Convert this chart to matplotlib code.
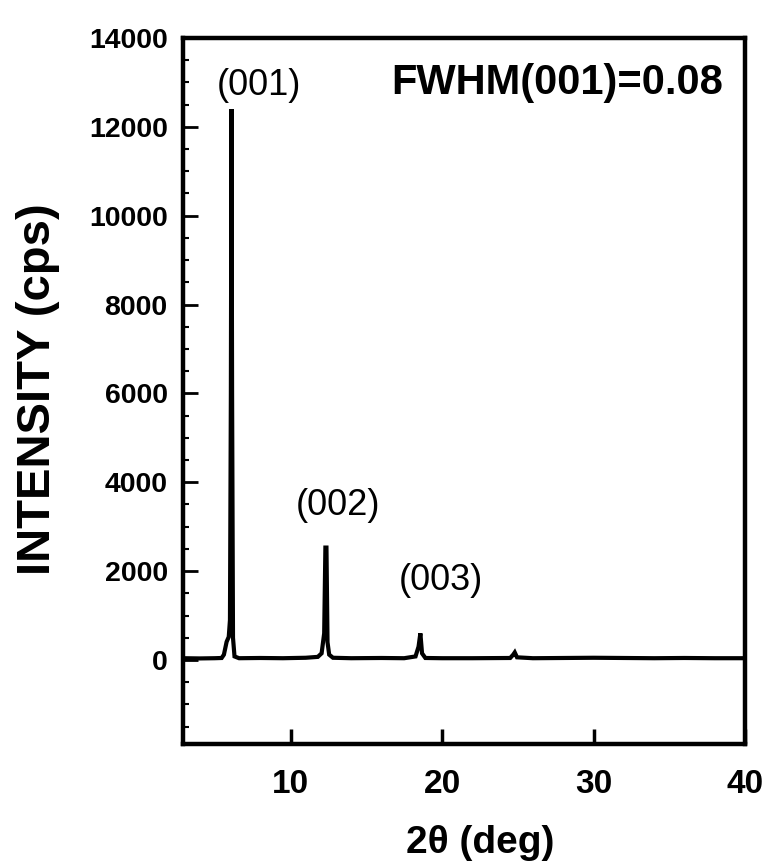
import matplotlib
matplotlib.use("Agg")
import matplotlib.pyplot as plt
from matplotlib.ticker import MultipleLocator

plt.rcParams['font.family'] = ['Liberation Sans', 'DejaVu Sans']

# XRD trace (2theta in deg, intensity in cps)
two_theta = [2.9, 4.0, 5.0, 5.45, 5.6, 5.78, 5.92, 6.0, 6.06, 6.1, 6.14, 6.2, 6.3, 6.6,
             8.0, 9.5, 11.0, 11.8, 12.05, 12.22, 12.3, 12.37, 12.44, 12.55, 12.8,
             14.0, 16.0, 17.5, 18.25, 18.45, 18.57, 18.68, 18.9, 20.0, 22.0,
             24.5, 24.7, 24.8, 24.95, 26.0, 28.0, 30.0, 32.0, 34.0, 36.0, 38.0, 40.0]
intensity = [40, 35, 40, 45, 120, 410, 520, 900, 6000, 12400, 6000, 500, 80, 40,
             45, 40, 50, 70, 150, 600, 2530, 2530, 400, 120, 50,
             40, 45, 40, 80, 300, 600, 150, 45, 40, 40,
             45, 120, 170, 60, 40, 45, 50, 45, 40, 45, 40, 40]

peak_labels = ["(001)", "(002)", "(003)"]
peak_label_x = [7.9, 13.1, 19.95]
peak_label_y = [12920, 3480, 1800]

fwhm_text = "FWHM(001)=0.08"

x_ticks = [10, 20, 30, 40]
y_ticks = [0, 2000, 4000, 6000, 8000, 10000, 12000, 14000]

fig = plt.figure(figsize=(7.67, 8.68), dpi=100)
ax = fig.add_axes([0.2386, 0.1429, 0.7327, 0.8134])

ax.plot(two_theta, intensity, color='black', lw=3.0, solid_joinstyle='miter')

ax.set_xlim(2.9, 40)
ax.set_ylim(-1890, 14000)

ax.set_xticks(x_ticks)
ax.set_yticks(y_ticks)
ax.yaxis.set_minor_locator(MultipleLocator(500))

for s in ax.spines.values():
    s.set_linewidth(3.2)

ax.tick_params(axis='x', which='major', direction='in', length=11, width=2.5,
               pad=18, labelsize=24)
ax.tick_params(axis='y', which='major', direction='in', length=11, width=2.0,
               pad=11, labelsize=20.5)
ax.tick_params(axis='y', which='minor', direction='in', length=4, width=1.5)
for lab in ax.get_xticklabels() + ax.get_yticklabels():
    lab.set_fontweight('bold')

ax.set_xlabel("2θ (deg)", fontsize=28, fontweight='bold')
ax.xaxis.set_label_coords(0.528, -0.115)
fig.text(38 / 767, 1 - 389 / 868, "INTENSITY (cps)", fontsize=34, fontweight='bold',
         rotation=90, ha='center', va='center')

for lbl, lx, ly in zip(peak_labels, peak_label_x, peak_label_y):
    ax.text(lx, ly, lbl, fontsize=26, ha='center', va='center')

ax.text(27.57, 12990, fwhm_text, fontsize=30, fontweight='bold',
        ha='center', va='center')

fig.savefig("out.png", dpi=100)
